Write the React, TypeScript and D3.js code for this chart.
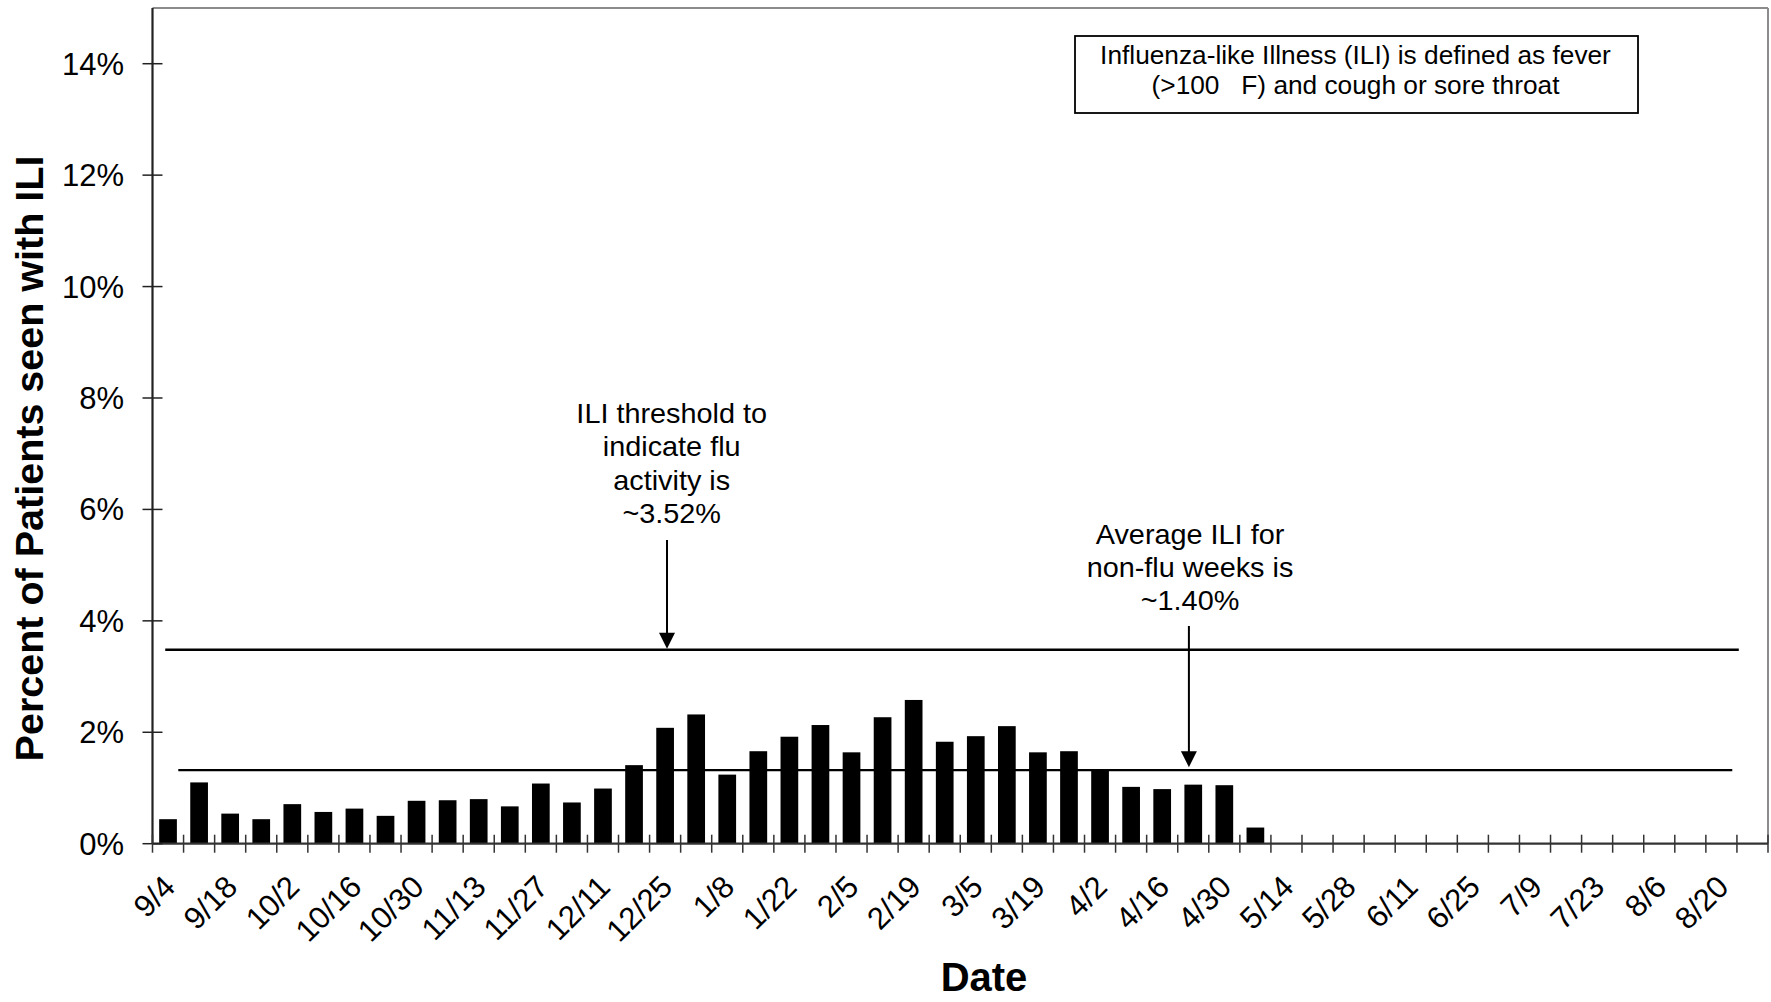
import React from "react";
import * as d3 from "d3";

// ---- data ----
const weeks: string[] = [
  "9/4", "9/11", "9/18", "9/25", "10/2", "10/9", "10/16", "10/23", "10/30",
  "11/6", "11/13", "11/20", "11/27", "12/4", "12/11", "12/18", "12/25",
  "1/1", "1/8", "1/15", "1/22", "1/29", "2/5", "2/12", "2/19", "2/26",
  "3/5", "3/12", "3/19", "3/26", "4/2", "4/9", "4/16", "4/23", "4/30",
  "5/7", "5/14", "5/21", "5/28", "6/4", "6/11", "6/18", "6/25",
  "7/2", "7/9", "7/16", "7/23", "7/30", "8/6", "8/13", "8/20", "8/27",
];

// percent of patients with ILI (weeks after 5/7 have no data yet)
const iliPercent: (number | null)[] = [
  0.44, 1.1, 0.54, 0.44, 0.71, 0.57, 0.63, 0.5, 0.77,
  0.78, 0.8, 0.67, 1.08, 0.74, 0.99, 1.41, 2.08,
  2.32, 1.24, 1.66, 1.92, 2.13, 1.64, 2.27, 2.58, 1.83,
  1.93, 2.11, 1.64, 1.66, 1.31, 1.02, 0.98, 1.06, 1.05,
  0.29,
];

const yTicks: number[] = [0, 2, 4, 6, 8, 10, 12, 14];
const labeledWeeks: string[] = weeks.filter((_, i) => i % 2 === 0);

const thresholdValue = 3.48; // drawn line
const averageValue = 1.32; // drawn line

const thresholdText: string[] = ["ILI threshold to", "indicate flu", "activity is", "~3.52%"];
const averageText: string[] = ["Average ILI for", "non-flu weeks is", "~1.40%"];
const definitionText: string[] = [
  "Influenza-like Illness (ILI) is defined as fever",
  "(>100\u00A0\u00A0\u00A0F) and cough or sore throat",
];

const FONT = "'Liberation Sans', Arial, Helvetica, sans-serif";

export default function App() {
  const W = 1771;
  const H = 1002;
  const left = 152.5;
  const right = 1768;
  const top = 8;
  const bottom = 843.7;

  const x = d3
    .scaleBand<string>()
    .domain(weeks)
    .range([left, right])
    .paddingInner(0.43)
    .paddingOuter(0.215);
  const step = x.step();
  const xi = d3.scaleLinear().domain([0, weeks.length]).range([left, right]);
  const y = d3.scaleLinear().domain([0, 15]).range([bottom, top]);

  const arrow = (ax: number, y0: number, y1: number, key: string) => (
    <g key={key}>
      <line x1={ax} x2={ax} y1={y0} y2={y1 - 12} stroke="#000" strokeWidth={2} />
      <path d={`M${ax - 8},${y1 - 16} L${ax + 8},${y1 - 16} L${ax},${y1} Z`} fill="#000" />
    </g>
  );

  const tickIdx = d3.range(weeks.length + 1);

  return (
    <svg
      width={W}
      height={H}
      style={{ position: "absolute", left: 0, top: 0, display: "block", background: "#fff" }}
      fontFamily={FONT}
    >
      <rect x={0} y={0} width={W} height={H} fill="#fff" />
      {/* plot frame top/right */}
      <line x1={left} x2={right} y1={top} y2={top} stroke="#8c8c8c" strokeWidth={2} />
      <line x1={right} x2={right} y1={top} y2={bottom} stroke="#8c8c8c" strokeWidth={2} />

      {/* bars */}
      {iliPercent.map((v, i) =>
        v == null ? null : (
          <rect
            key={weeks[i]}
            x={x(weeks[i])!}
            y={y(v)}
            width={x.bandwidth()}
            height={y(0) - y(v)}
            fill="#000"
          />
        )
      )}

      {/* reference lines */}
      <line x1={xi(0.41)} x2={xi(51.06)} y1={y(thresholdValue)} y2={y(thresholdValue)} stroke="#000" strokeWidth={2.4} />
      <line x1={xi(0.83)} x2={xi(50.85)} y1={y(averageValue)} y2={y(averageValue)} stroke="#000" strokeWidth={2.4} />

      {/* axes */}
      <line x1={left} x2={left} y1={top} y2={bottom} stroke="#222" strokeWidth={2.2} />
      <line x1={left} x2={right} y1={bottom} y2={bottom} stroke="#333" strokeWidth={2.2} />
      {yTicks.map((t) => (
        <g key={t}>
          <line x1={left - 10} x2={left + 10} y1={y(t)} y2={y(t)} stroke="#222" strokeWidth={1.5} />
          <text x={124} y={y(t) + 11} fontSize={31} textAnchor="end" fill="#000">
            {`${t}%`}
          </text>
        </g>
      ))}
      {tickIdx.map((i) => (
        <line key={i} x1={left + i * step} x2={left + i * step} y1={bottom - 9} y2={bottom + 9} stroke="#333" strokeWidth={1.5} />
      ))}
      {labeledWeeks.map((w) => {
        const cx = x(w)! + x.bandwidth() / 2;
        return (
          <text
            key={w}
            transform={`translate(${cx + 9},${bottom + 45}) rotate(-45)`}
            fontSize={31}
            textAnchor="end"
            fill="#000"
          >
            {w}
          </text>
        );
      })}

      {/* axis titles */}
      <text transform={`translate(43,458.5) rotate(-90)`} fontSize={39.5} fontWeight="bold" textAnchor="middle" fill="#000">
        Percent of Patients seen with ILI
      </text>
      <text x={984} y={991} fontSize={40} fontWeight="bold" textAnchor="middle" fill="#000">
        Date
      </text>

      {/* threshold annotation */}
      {thresholdText.map((s, k) => (
        <text key={s} transform={`translate(671.7,${423 + k * 33.3}) scale(1.03,1)`} fontSize={28} textAnchor="middle" fill="#000">
          {s}
        </text>
      ))}
      {arrow(xi(16.56), 540, y(thresholdValue) - 1, "a1")}

      {/* average annotation */}
      {averageText.map((s, k) => (
        <text key={s} transform={`translate(1190,${544 + k * 33}) scale(1.03,1)`} fontSize={28} textAnchor="middle" fill="#000">
          {s}
        </text>
      ))}
      {arrow(xi(33.36), 626, y(averageValue) - 3, "a2")}

      {/* definition box */}
      <rect x={1075} y={36} width={563} height={77} fill="#fff" stroke="#000" strokeWidth={1.8} />
      {definitionText.map((s, k) => (
        <text key={k} transform={`translate(1355.5,${63.5 + k * 30.5}) scale(1.03,1)`} fontSize={25.5} textAnchor="middle" fill="#000">
          {s}
        </text>
      ))}
    </svg>
  );
}
